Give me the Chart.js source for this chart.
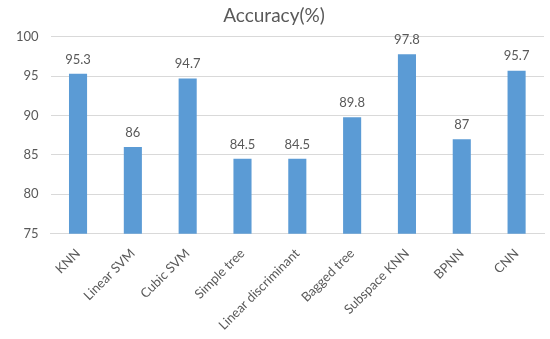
<!DOCTYPE html>
<html>
<head>
<meta charset="utf-8">
<script src="https://cdn.jsdelivr.net/npm/chart.js@4"></script>
<style>
  html, body { margin: 0; padding: 0; background: #fff; }
  #wrap { width: 550px; height: 339px; position: relative; }
</style>
</head>
<body>
<div id="wrap"><canvas id="accChart"></canvas></div>
<script>
const categories = ['KNN', 'Linear SVM', 'Cubic SVM', 'Simple tree', 'Linear discriminant', 'Bagged tree', 'Subspace KNN', 'BPNN', 'CNN'];
const accuracy = [95.3, 86, 94.7, 84.5, 84.5, 89.8, 97.8, 87, 95.7];
const yTicks = [75, 80, 85, 90, 95, 100];

const textColor = '#595959';
const fontFamily = 'Lato, "Open Sans", sans-serif';

// draw value labels above each bar
const valueLabels = {
    id: 'valueLabels',
    afterDatasetsDraw(chart) {
        const ctx = chart.ctx;
        const meta = chart.getDatasetMeta(0);
        ctx.save();
        ctx.fillStyle = textColor;
        ctx.font = '13px ' + fontFamily;
        ctx.textAlign = 'center';
        ctx.textBaseline = 'bottom';
        meta.data.forEach((bar, i) => {
            ctx.fillText(String(accuracy[i]), bar.x, bar.y - 8);
        });
        ctx.restore();
    }
};

new Chart(document.getElementById('accChart'), {
    type: 'bar',
    data: {
        labels: categories,
        datasets: [{
            data: accuracy,
            backgroundColor: '#5B9BD5',
            categoryPercentage: 1,
            barPercentage: 0.33
        }]
    },
    options: {
        responsive: true,
        maintainAspectRatio: false,
        animation: false,
        layout: { padding: { left: 4, right: 6, top: 4, bottom: 2 } },
        plugins: {
            legend: { display: false },
            tooltip: { enabled: false },
            title: {
                display: true,
                text: 'Accuracy(%)',
                color: textColor,
                font: { family: fontFamily, size: 19, weight: 'normal' },
                padding: { top: 0, bottom: 10 }
            }
        },
        scales: {
            x: {
                grid: { display: false },
                border: { color: '#d9d9d9' },
                ticks: {
                    color: textColor,
                    font: { family: fontFamily, size: 13 },
                    minRotation: 45,
                    maxRotation: 45,
                    padding: 4
                }
            },
            y: {
                min: yTicks[0],
                max: yTicks[yTicks.length - 1],
                afterBuildTicks(axis) {
                    axis.ticks = yTicks.map(v => ({ value: v }));
                },
                grid: { color: '#d9d9d9', drawTicks: false },
                border: { display: false },
                ticks: {
                    color: textColor,
                    font: { family: fontFamily, size: 13 },
                    padding: 12
                }
            }
        }
    },
    plugins: [valueLabels]
});
</script>
</body>
</html>
